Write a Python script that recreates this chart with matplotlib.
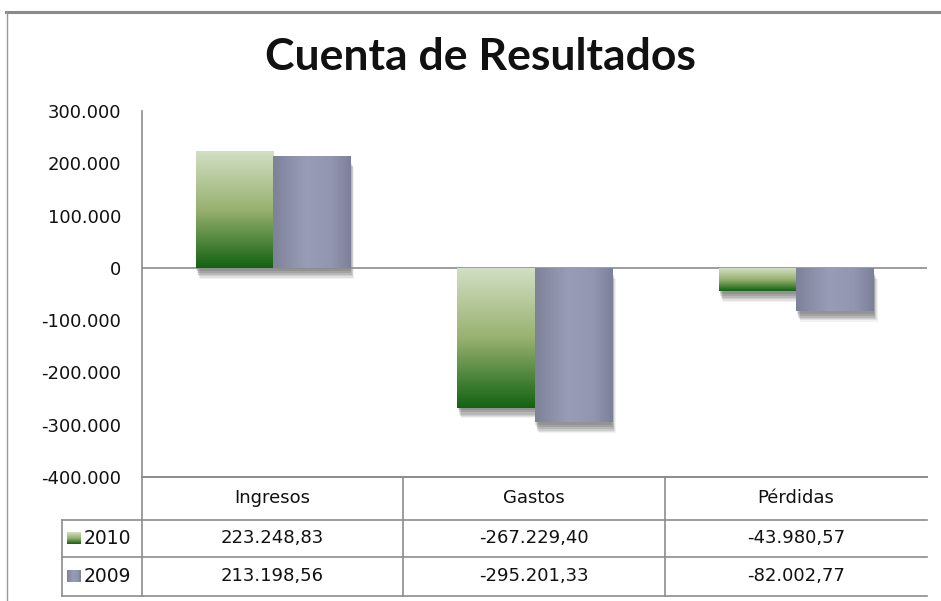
import numpy as np
import matplotlib
matplotlib.use("Agg")
import matplotlib.pyplot as plt
from matplotlib.lines import Line2D
from matplotlib.colors import LinearSegmentedColormap
import matplotlib.patheffects as pe

# ---- data ----
title = "Cuenta de Resultados"
categories = ["Ingresos", "Gastos", "Pérdidas"]
series_names = ["2010", "2009"]
values_2010 = [223248.83, -267229.40, -43980.57]
values_2009 = [213198.56, -295201.33, -82002.77]
yticks = [300000, 200000, 100000, 0, -100000, -200000, -300000, -400000]

W, H = 941, 601
fig = plt.figure(figsize=(W / 100, H / 100), dpi=100)
fig.patch.set_facecolor("white")

def fx(px):
    return px / W

def fy(py):
    return 1 - py / H

FONT = "DejaVu Sans"
TXT = "#111111"
GRID = "#8c8c8c"

# frame
fig.add_artist(Line2D([fx(6), 1], [fy(12), fy(12)], color="#8a8a8a", lw=2.2))
fig.add_artist(Line2D([fx(7), fx(7)], [0, fy(12)], color="#9a9a9a", lw=1.0))

# title
fig.text(fx(480), fy(57), title, ha="center", va="center",
         fontsize=32, fontweight="bold", family="Lato", color="#111111")

# axes
ax_l, ax_r, ax_t, ax_b = 142, 927, 111, 477
ax = fig.add_axes([fx(ax_l), fy(ax_b), fx(ax_r - ax_l), (ax_b - ax_t) / H])
ax.set_xlim(-0.5, 2.5)
ax.set_ylim(-400000, 300000)
for s in ["top", "right"]:
    ax.spines[s].set_visible(False)
ax.spines["left"].set_color(GRID)
ax.spines["bottom"].set_color(GRID)
ax.spines["left"].set_linewidth(1.2)
ax.spines["bottom"].set_linewidth(1.2)
ax.set_xticks([])
ax.set_yticks(yticks)
ax.set_yticklabels([("{:,.0f}".format(v)).replace(",", ".") for v in yticks],
                   fontsize=13, family=FONT, color=TXT)
ax.tick_params(axis="y", length=0, pad=15)
ax.axhline(0, color=GRID, lw=1.2, zorder=2)

x = np.arange(len(categories))
bw = 0.295

green_cmap = LinearSegmentedColormap.from_list(
    "g", [(0.0, "#d2dfc4"), (0.5, "#98b170"), (1.0, "#126212")])
gray_cmap = LinearSegmentedColormap.from_list(
    "b", [(0.0, "#7e8299"), (0.42, "#989cb6"), (0.75, "#9296b0"), (1.0, "#7c8099")])

shadow_layers = [((0.5, -2.0), 0.10), ((1.0, -3.5), 0.10), ((1.5, -5.0), 0.10),
                 ((2.0, -6.0), 0.09), ((2.5, -7.0), 0.07), ((3.0, -7.8), 0.05)]

def draw_series(xpos, vals, cmap, vertical):
    shadow_bars = ax.bar(xpos, vals, width=bw, color="none", edgecolor="none", zorder=1)
    for b in shadow_bars:
        b.set_path_effects([pe.SimplePatchShadow(offset=o, shadow_rgbFace="black", alpha=a)
                            for o, a in shadow_layers])
    bars = ax.bar(xpos, vals, width=bw, color="none", edgecolor="none", zorder=3)
    for b in bars:
        x0 = b.get_x()
        x1 = x0 + b.get_width()
        y0, y1 = sorted([b.get_y(), b.get_y() + b.get_height()])
        if vertical:
            grad = np.linspace(0, 1, 256).reshape(-1, 1)
        else:
            grad = np.linspace(0, 1, 256).reshape(1, -1)
        im = ax.imshow(grad, cmap=cmap, aspect="auto", extent=(x0, x1, y0, y1),
                       origin="upper", zorder=3, interpolation="bilinear")
        im.set_clip_path(b)
    return bars

draw_series(x - bw / 2, values_2010, green_cmap, True)
draw_series(x + bw / 2, values_2009, gray_cmap, False)
ax.set_xlim(-0.5, 2.5)
ax.set_ylim(-400000, 300000)

# ---- data table ----
col_edges = [142, 403, 665, 927]
row_lines = [477, 520, 557, 596]
leg_left = 62
tl = dict(color=GRID, lw=1.2)
fig.add_artist(Line2D([fx(142), fx(927)], [fy(477), fy(477)], **tl))
for yy in row_lines[1:]:
    fig.add_artist(Line2D([fx(leg_left), fx(927)], [fy(yy), fy(yy)], **tl))
fig.add_artist(Line2D([fx(leg_left), fx(leg_left)], [fy(520), fy(596)], **tl))
for xx in col_edges[:-1]:
    fig.add_artist(Line2D([fx(xx), fx(xx)], [fy(477), fy(596)], **tl))

def fmt_es(v):
    s = "{:,.2f}".format(v)
    return s.replace(",", "X").replace(".", ",").replace("X", ".")

centers = [(col_edges[i] + col_edges[i + 1]) / 2 for i in range(3)]
for c, name in zip(centers, categories):
    fig.text(fx(c), fy(498), name, ha="center", va="center",
             fontsize=13, family=FONT, color=TXT)

rows_y = [538, 576]
for ry, vals, name, cmap, vertical in zip(rows_y, [values_2010, values_2009],
                                         series_names, [green_cmap, gray_cmap],
                                         [True, False]):
    kax = fig.add_axes([fx(67), fy(ry + 6), fx(14), 12 / H])
    kax.axis("off")
    grad = np.linspace(0, 1, 64).reshape(-1, 1) if vertical else np.linspace(0, 1, 64).reshape(1, -1)
    kax.imshow(grad, cmap=cmap, aspect="auto", extent=(0, 1, 0, 1), origin="upper")
    fig.text(fx(84), fy(ry), name, ha="left", va="center",
             fontsize=13.5, family=FONT, color=TXT)
    for c, v in zip(centers, vals):
        fig.text(fx(c), fy(ry), fmt_es(v), ha="center", va="center",
                 fontsize=13, family=FONT, color=TXT)

fig.savefig("out.png", dpi=100, facecolor="white")
